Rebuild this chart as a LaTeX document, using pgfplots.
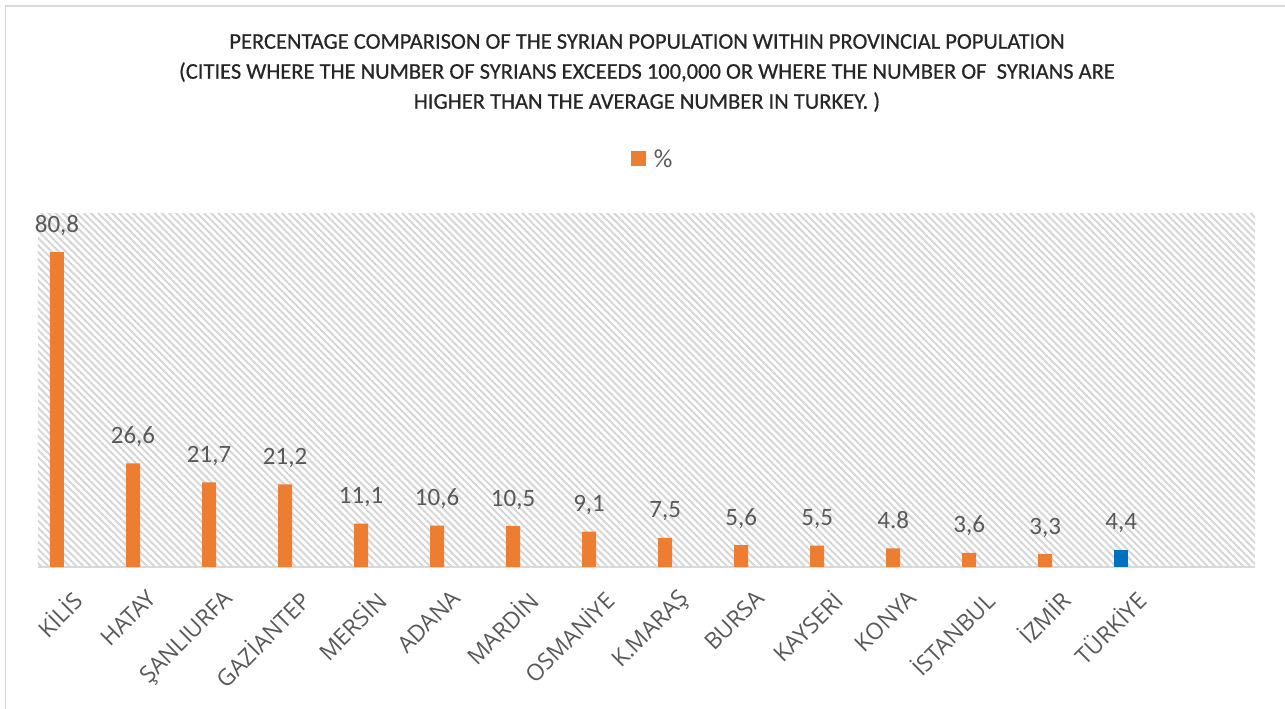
\documentclass[border=0pt]{standalone}
\usepackage{fontspec}
\setmainfont{Carlito}
\newfontfamily\ticklabelfont{Open Sans}
\usepackage{pgfplots}
\pgfplotsset{compat=1.18}
\usetikzlibrary{patterns.meta}
\definecolor{barorange}{HTML}{ED7D31}
\definecolor{barblue}{HTML}{0070C0}
\definecolor{lbl}{HTML}{595959}
\definecolor{hatch}{HTML}{D6D6D6}
\definecolor{axisgray}{HTML}{D9D9D9}
\definecolor{ttl}{HTML}{262626}
\definecolor{frameleft}{HTML}{E8CFCF}

\pgfplotstableread{
x  y     lab
0  80.8  80,8
1  26.6  26,6
2  21.7  21,7
3  21.2  21,2
4  11.1  11,1
5  10.6  10,6
6  10.5  10,5
7  9.1   9,1
8  7.5   7,5
9  5.6   5,6
10 5.5   5,5
11 4.8   4.8
12 3.6   3,6
13 3.3   3,3
}\provinces
\pgfplotstableread{
x  y    lab
14 4.4  4,4
}\national

\begin{document}
\begin{tikzpicture}[x=1pt,y=1pt]
\path[use as bounding box] (0pt,0pt) rectangle (1285pt,709pt);
% chart frame
\draw[color=axisgray, line width=1.5pt] (5pt,703pt) -- (1285pt,703pt);
\draw[color=frameleft, line width=1.5pt] (5.5pt,0pt) -- (5.5pt,703pt);
% title
\node[font=\fontsize{22.5}{30}\selectfont\addfontfeature{FakeBold=0.5}, text=ttl, align=center] at (647pt,636pt)
  {PERCENTAGE COMPARISON OF THE SYRIAN POPULATION WITHIN PROVINCIAL POPULATION\\
   (CITIES WHERE THE NUMBER OF SYRIANS EXCEEDS 100,000 OR WHERE THE NUMBER OF~ SYRIANS ARE\\
   HIGHER THAN THE AVERAGE NUMBER IN TURKEY. )};
\begin{axis}[
  at={(57pt,142pt)}, anchor=origin,
  scale only axis, width=1217pt, height=353pt,
  xmin=-0.25, xmax=15.76, ymin=0, ymax=90.6,
  axis x line=bottom, axis y line=none,
  x axis line style={draw=axisgray, line width=1.5pt, -},
  axis background/.style={pattern={Lines[angle=-45,distance=5pt,line width=2pt]}, pattern color=hatch},
  ytick=\empty,
  xtick={0.25,1.25,...,14.25},
  xticklabels={KİLİS,HATAY,ŞANLIURFA,GAZİANTEP,MERSİN,ADANA,MARDİN,OSMANİYE,K.MARAŞ,BURSA,KAYSERİ,KONYA,İSTANBUL,İZMİR,TÜRKİYE},
  major tick length=0pt,
  xticklabel style={xshift=-6pt, yshift=-21pt, rotate=45, anchor=north east,
    font=\ticklabelfont\fontsize{23}{23}\selectfont, text=lbl, inner sep=0pt},
  ybar, bar width=14pt, bar shift=0pt,
  nodes near coords={\pgfplotspointmeta},
  point meta=explicit symbolic,
  every node near coord/.append style={anchor=base, yshift=20pt, font=\fontsize{25}{25}\selectfont, text=lbl},
  legend style={at={(0.505,1.156)}, anchor=center, draw=none, fill=none,
    font=\fontsize{26}{26}\selectfont, text=lbl},
  legend image code/.code={\fill[barorange] (0pt,-7.5pt) rectangle (15pt,7.5pt); \path (0pt,0pt) -- (21pt,0pt);},
]
\addplot[fill=barorange, draw=none] table[x=x, y=y, meta=lab] {\provinces};
\addlegendentry{\%}
\addplot[fill=barblue, draw=none, forget plot] table[x=x, y=y, meta=lab] {\national};
\end{axis}
\end{tikzpicture}
\end{document}
